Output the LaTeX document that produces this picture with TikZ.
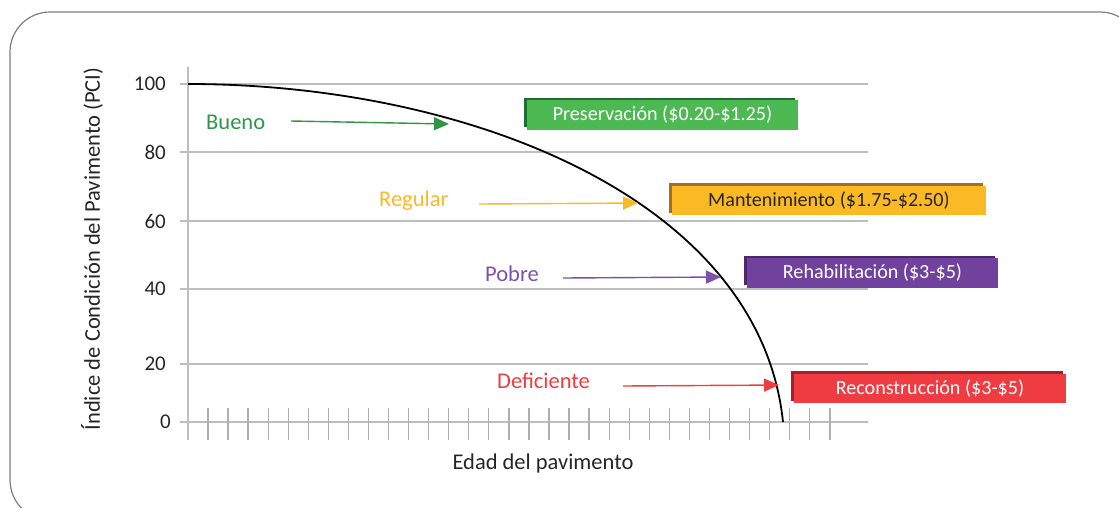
\documentclass[tikz,border=0pt]{standalone}
\usepackage{fontspec}
\setmainfont{Carlito}
\usetikzlibrary{arrows.meta,shadows}
\definecolor{framegray}{RGB}{127,127,127}
\definecolor{gridgray}{RGB}{190,190,190}
\definecolor{tickgray}{RGB}{175,175,175}
\definecolor{txtgray}{RGB}{38,38,38}
\definecolor{gtext}{RGB}{47,150,72}
\definecolor{gbox}{RGB}{77,185,82}
\definecolor{gshadow}{RGB}{30,110,50}
\definecolor{otext}{RGB}{250,185,40}
\definecolor{obox}{RGB}{251,185,36}
\definecolor{oshadow}{RGB}{160,112,35}
\definecolor{ptext}{RGB}{125,80,170}
\definecolor{pbox}{RGB}{112,66,158}
\definecolor{pshadow}{RGB}{75,40,110}
\definecolor{rtext}{RGB}{238,60,64}
\definecolor{rbox}{RGB}{238,60,66}
\definecolor{rshadow}{RGB}{170,30,40}
\begin{document}
\begin{tikzpicture}[x=1pt,y=-1pt,
  gridline/.style={draw=gridgray,line width=1.3pt},
  tickmark/.style={draw=tickgray,line width=1.3pt},
  lbl/.style={font=\fontsize{21}{25}\selectfont,inner sep=0pt,text=txtgray},
  title/.style={font=\fontsize{22.5}{26}\selectfont,inner sep=0pt,text=txtgray},
  state/.style={font=\fontsize{22.5}{26}\selectfont,inner sep=0pt,anchor=west},
  ptr/.style={line width=1.4pt,-{Triangle[length=15pt,width=13pt]}},
  costbox/.style={font=\fontsize{20.1}{24}\selectfont,inner sep=0pt,minimum height=29.5pt,
    general shadow={fill=#1,shadow xshift=-3pt,shadow yshift=2.5pt}},
]
\useasboundingbox (0,0) rectangle (1119,507);
% frame
\draw[framegray,line width=1.2pt,rounded corners=40pt] (10,12) rectangle (1140,520);
% grid
\foreach \yy in {84,152,221,289,364,422}
  \draw[gridline] (180,\yy) -- (868,\yy);
\draw[gridline] (188,67) -- (188,440);
\foreach \k in {0,...,31}
  \draw[tickmark] ({208+\k*20.06},408) -- ({208+\k*20.06},440);
% axis labels
\node[lbl,anchor=east] (l100) at (166,84) {100};
\node[lbl,anchor=east] (l80) at (166,152) {80};
\node[lbl,anchor=east] (l60) at (166,221) {60};
\node[lbl,anchor=east] (l40) at (166,289) {40};
\node[lbl,anchor=east] (l20) at (166,364) {20};
\node[lbl,anchor=east] (l0) at (171,422) {0};
\node[title,rotate=90] (ytitle) at (92,249) {Índice de Condición del Pavimento (PCI)};
\node[title] (xtitle) at (543,463) {Edad del pavimento};
% curve
\coordinate (cstart) at (188,84);
\coordinate (cend) at (783,422);
\draw[black,line width=1.8pt] (cstart) .. controls (470,84) and (760,200) .. (cend);
% state labels
\node[state,text=gtext] (bueno) at (206,122) {Bueno};
\node[state,text=otext] (regular) at (379,201) {Regular};
\node[state,text=ptext] (pobre) at (485,274) {Pobre};
\node[state,text=rtext] (deficiente) at (497,381) {Deficiente};
\coordinate (bs) at (291,121); \coordinate (be) at (449,124);
\coordinate (rs) at (479,204); \coordinate (re) at (638,203);
\coordinate (ps) at (563,278); \coordinate (pe) at (721,277);
\coordinate (ds) at (623,386); \coordinate (de) at (779,385);
\draw[ptr,gtext] (bs) -- (be);
\draw[ptr,otext] (rs) -- (re);
\draw[ptr,ptext] (ps) -- (pe);
\draw[ptr,rtext] (ds) -- (de);
% cost boxes
\node[costbox=gshadow,fill=gbox,text=white,minimum width=271pt] (pres) at (662.5,115) {Preservación (\$0.20-\$1.25)};
\node[costbox=oshadow,fill=obox,text=txtgray,minimum width=314pt] (mant) at (829,200.5) {Mantenimiento (\$1.75-\$2.50)};
\node[costbox=pshadow,fill=pbox,text=white,minimum width=251pt] (rehab) at (872.5,273) {Rehabilitación (\$3-\$5)};
\node[costbox=rshadow,fill=rbox,text=white,minimum width=272pt] (recon) at (930,388.5) {Reconstrucción (\$3-\$5)};
\end{tikzpicture}
\end{document}
